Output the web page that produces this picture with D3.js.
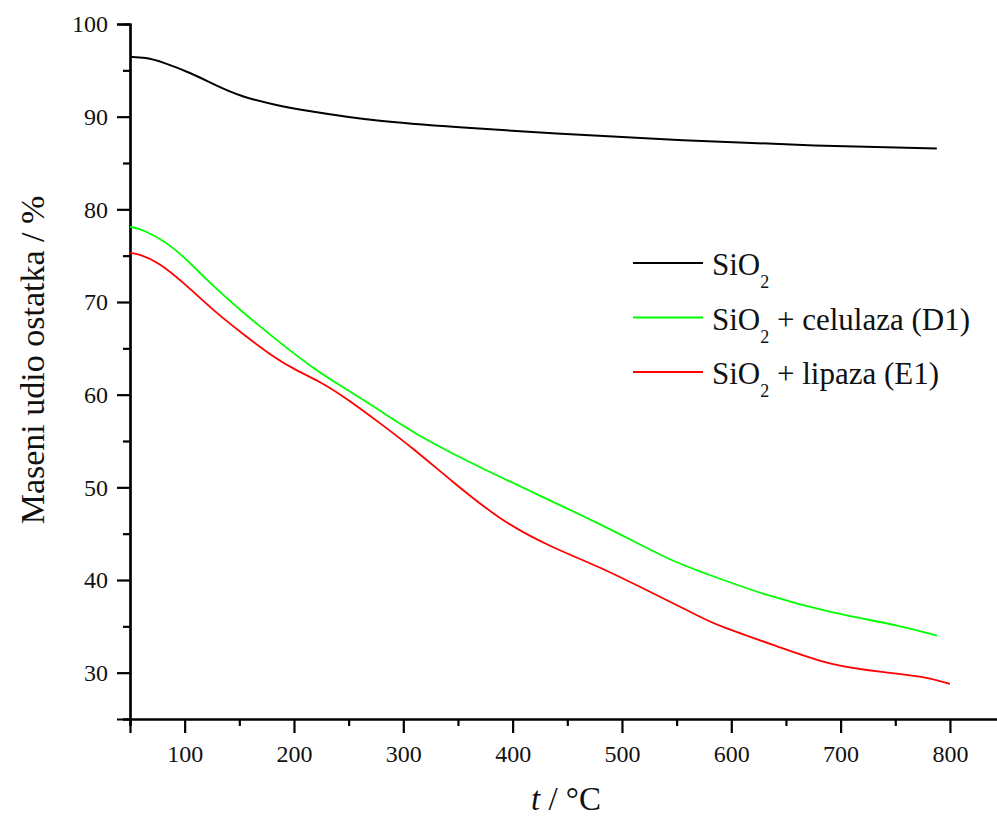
<!DOCTYPE html>
<html>
<head>
<meta charset="utf-8">
<script src="https://cdn.jsdelivr.net/npm/d3@7"></script>
<style>
  body { margin: 0; background: #fff; }
  svg { display: block; font-family: "Liberation Serif", "Times New Roman", serif; }
</style>
</head>
<body>
<div id="chart"></div>
<script>
// TGA curves
var tBlack = [50, 64, 80, 106, 128, 152, 183, 213, 274, 350, 434, 556, 678, 788];
var vBlack = [96.45, 96.4, 95.9, 94.7, 93.4, 92.15, 91.25, 90.6, 89.5, 88.85, 88.2, 87.4, 86.86, 86.57];

var tGreen = [50, 61, 91, 120, 151, 184, 218, 242, 279, 315, 388, 480, 544, 572, 632, 693, 754, 788];
var vGreen = [78.1, 77.9, 75.95, 72.35, 69.1, 65.9, 62.8, 61.0, 58.3, 55.4, 51.1, 46.1, 42.1, 40.9, 38.3, 36.4, 35.1, 34.0];

var tRed = [50, 60, 76, 100, 126, 157, 181, 199, 224, 248, 279, 309, 343, 389, 434, 480, 526, 572, 587, 648, 693, 739, 776, 800];
var vRed = [75.3, 75.1, 74.3, 72.0, 69.1, 66.2, 64.1, 62.8, 61.4, 59.6, 56.9, 54.2, 50.8, 46.4, 43.6, 41.4, 38.7, 36.0, 35.1, 32.6, 30.7, 30.05, 29.6, 28.8];

var xMajor = [100, 200, 300, 400, 500, 600, 700, 800];
var xMinor = [50, 150, 250, 350, 450, 550, 650, 750, 850];
var yMajor = [30, 40, 50, 60, 70, 80, 90, 100];
var yMinor = [25, 35, 45, 55, 65, 75, 85, 95];

var legendNames = ["", " + celulaza (D1)", " + lipaza (E1)"];
var colors = ["#000000", "#00ff00", "#ff0000"];

var w = 997;
var h = 819;

var xscale = d3.scaleLinear().domain([50, 850]).range([130, 1004.6]);
var yscale = d3.scaleLinear().domain([25, 100]).range([719, 24]);

var svg = d3.select("#chart")
            .append("svg")
            .attr("width", w)
            .attr("height", h);

// axes: minor ticks first, then major with labels
var xminor = d3.axisBottom(xscale).tickValues(xMinor).tickSize(7).tickFormat("");
var xmajor = d3.axisBottom(xscale).tickValues(xMajor).tickSize(14).tickPadding(12).tickFormat(d3.format("d"));
var yminor = d3.axisLeft(yscale).tickValues(yMinor).tickSize(7).tickFormat("");
var ymajor = d3.axisLeft(yscale).tickValues(yMajor).tickSize(13).tickPadding(9).tickFormat(d3.format("d"));

function styleAxis(g) {
    g.attr("font-family", "'Liberation Serif', serif").attr("font-size", 24);
    g.select(".domain").attr("stroke", "#000").attr("stroke-width", 2.2);
    g.selectAll(".tick line").attr("stroke", "#000").attr("stroke-width", 2.2);
    g.selectAll(".tick text").attr("fill", "#111");
}

svg.append("g").attr("transform", "translate(0,719)").call(xminor).call(styleAxis);
svg.append("g").attr("transform", "translate(0,719)").call(xmajor).call(styleAxis);
svg.append("g").attr("transform", "translate(130,0)").call(yminor).call(styleAxis);
svg.append("g").attr("transform", "translate(130,0)").call(ymajor).call(styleAxis);

// curves
var line = d3.line()
    .x(function(d) { return xscale(d[0]); })
    .y(function(d) { return yscale(d[1]); })
    .curve(d3.curveBasis);

var series = [d3.zip(tBlack, vBlack), d3.zip(tGreen, vGreen), d3.zip(tRed, vRed)];

svg.selectAll("path.curve")
    .data(series)
    .enter()
    .append("path")
    .attr("class", "curve")
    .attr("d", line)
    .attr("fill", "none")
    .attr("stroke", function(d, i) { return colors[i]; })
    .attr("stroke-width", function(d, i) { return i === 0 ? 2 : 1.8; });

// legend
var legend = svg.selectAll("g.leg")
    .data(legendNames)
    .enter()
    .append("g")
    .attr("class", "leg")
    .attr("transform", function(d, i) { return "translate(633," + (263 + i * 54.5) + ")"; });

legend.append("line")
    .attr("x1", 0).attr("x2", 70)
    .attr("y1", 0).attr("y2", 0)
    .attr("stroke", function(d, i) { return colors[i]; })
    .attr("stroke-width", 2);

var lt = legend.append("text")
    .attr("x", 79)
    .attr("y", 12)
    .attr("fill", "#111")
    .style("font-size", "31px");
lt.append("tspan").text("SiO");
lt.append("tspan").attr("dy", 13).style("font-size", "18px").text("2");
lt.append("tspan").attr("dy", -13).text(function(d) { return d; });

// axis titles
svg.append("text")
    .attr("transform", "translate(44,360) rotate(-90)")
    .attr("text-anchor", "middle")
    .attr("fill", "#111")
    .style("font-size", "34px")
    .text("Maseni udio ostatka / %");

var xt = svg.append("text")
    .attr("x", 566)
    .attr("y", 810)
    .attr("text-anchor", "middle")
    .attr("fill", "#111")
    .style("font-size", "33px");
xt.append("tspan").style("font-style", "italic").text("t");
xt.append("tspan").text(" / °C");
</script>
</body>
</html>
